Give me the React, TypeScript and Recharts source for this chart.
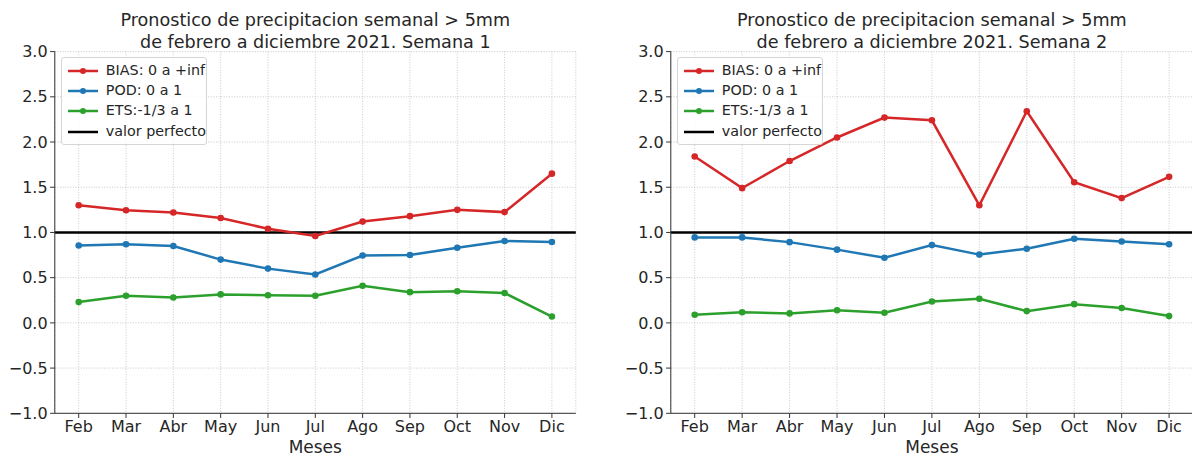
import { LineChart, Line, XAxis, YAxis, CartesianGrid, ReferenceLine } from 'recharts'

const meses = ['Feb', 'Mar', 'Abr', 'May', 'Jun', 'Jul', 'Ago', 'Sep', 'Oct', 'Nov', 'Dic']

const bias1 = [1.3, 1.245, 1.22, 1.16, 1.04, 0.96, 1.12, 1.18, 1.25, 1.225, 1.65]
const pod1 = [0.855, 0.87, 0.85, 0.7, 0.6, 0.535, 0.745, 0.75, 0.83, 0.905, 0.895]
const ets1 = [0.23, 0.3, 0.28, 0.315, 0.305, 0.3, 0.41, 0.34, 0.35, 0.33, 0.07]

const bias2 = [1.84, 1.49, 1.79, 2.05, 2.27, 2.24, 1.3, 2.34, 1.555, 1.38, 1.615]
const pod2 = [0.945, 0.945, 0.893, 0.81, 0.72, 0.86, 0.755, 0.82, 0.93, 0.9, 0.87]
const ets2 = [0.09, 0.118, 0.105, 0.14, 0.112, 0.236, 0.266, 0.13, 0.207, 0.165, 0.075]

const yTicks = [-1, -0.5, 0, 0.5, 1, 1.5, 2, 2.5, 3]
const valorPerfecto = 1

const titulo1 = 'Pronostico de precipitacion semanal > 5mm'
const titulo2a = 'de febrero a diciembre 2021. Semana 1'
const titulo2b = 'de febrero a diciembre 2021. Semana 2'

const RED = '#d62728'
const BLUE = '#1f77b4'
const GREEN = '#2ca02c'
const FONT = '"DejaVu Sans", sans-serif'
const INK = '#262626'
const SPINE = '#333'

const legendItems = [
  { label: 'BIAS: 0 a +inf', color: RED, dot: true },
  { label: 'POD: 0 a 1', color: BLUE, dot: true },
  { label: 'ETS:-1/3 a 1', color: GREEN, dot: true },
  { label: 'valor perfecto', color: '#000', dot: false },
]

const PLOT_TOP = 51.6
const PLOT_BOTTOM = 413.3
const H = 457
const CW = 600

function buildRows(bias: number[], pod: number[], ets: number[]) {
  return meses.map((mes, i) => ({ mes, bias: bias[i], pod: pod[i], ets: ets[i] }))
}

const fmtY = (v: number) => v.toFixed(1).replace('-', '\u2212')

function Legend({ x }: { x: number }) {
  return (
    <div
      style={{
        position: 'absolute', left: x + 5.8, top: 56.7, width: 146, height: 88,
        boxSizing: 'border-box', border: '1px solid #d6d6d6', borderRadius: 3,
        background: 'rgba(255,255,255,0.8)', fontFamily: FONT, fontSize: 14.3, color: INK,
      }}
    >
      {legendItems.map((it, i) => (
        <div key={it.label} style={{ position: 'absolute', left: 0, top: 3.3 + i * 20.2, height: 20, width: '100%' }}>
          <svg width={34} height={20} style={{ position: 'absolute', left: 5, top: 0 }}>
            <line x1={1} x2={31} y1={10} y2={10} stroke={it.color} strokeWidth={2.5} />
            {it.dot && <circle cx={16} cy={10} r={3} fill={it.color} />}
          </svg>
          <span style={{ position: 'absolute', left: 44.2, top: 1, lineHeight: '17px', whiteSpace: 'nowrap' }}>{it.label}</span>
        </div>
      ))}
    </div>
  )
}

function Panel({ left, plotLeft, plotRight, rows, sub }: {
  left: number; plotLeft: number; plotRight: number
  rows: ReturnType<typeof buildRows>; sub: string
}) {
  const yw = plotLeft - left
  const mr = left + CW - plotRight
  const pad = 23.9
  const cx = (plotLeft + plotRight) / 2
  const tick = { fill: INK, fontSize: 16, fontFamily: FONT }
  return (
    <>
      <div style={{ position: 'absolute', left: left, top: 0 }}>
        <LineChart width={CW} height={H} data={rows} margin={{ top: PLOT_TOP, right: mr, left: 0, bottom: 0 }}>
          <CartesianGrid stroke="#c4c4c4" strokeDasharray="1 1.6" strokeWidth={0.9} />
          <XAxis
            dataKey="mes" type="category" height={H - PLOT_BOTTOM - PLOT_TOP * 0}
            padding={{ left: pad, right: pad }}
            tick={tick} tickSize={4.7} tickMargin={3.1}
            tickLine={{ stroke: SPINE }} axisLine={{ stroke: SPINE, strokeWidth: 1 }}
            interval={0}
            label={{ value: 'Meses', position: 'insideBottom', offset: 4.5, fill: INK, fontSize: 17, fontFamily: FONT }}
          />
          <XAxis
            xAxisId="top" orientation="top" dataKey="mes" height={0}
            padding={{ left: pad, right: pad }} tick={false} tickLine={false}
            axisLine={{ stroke: SPINE, strokeWidth: 1 }}
          />
          <YAxis
            type="number" domain={[-1, 3]} ticks={yTicks} width={yw}
            tick={tick} tickFormatter={fmtY} tickSize={4.7} tickMargin={2.5}
            tickLine={{ stroke: SPINE }} axisLine={{ stroke: SPINE, strokeWidth: 1 }}
            interval={0}
          />
          <YAxis
            yAxisId="right" orientation="right" type="number" domain={[-1, 3]} width={0}
            tick={false} tickLine={false} axisLine={{ stroke: SPINE, strokeWidth: 1 }}
          />
          <ReferenceLine y={valorPerfecto} stroke="#000" strokeWidth={2.6} />
          <Line type="linear" dataKey="bias" stroke={RED} strokeWidth={2.5}
            dot={{ r: 3.3, fill: RED, stroke: RED, strokeWidth: 0 }} activeDot={false} isAnimationActive={false} />
          <Line type="linear" dataKey="pod" stroke={BLUE} strokeWidth={2.5}
            dot={{ r: 3.3, fill: BLUE, stroke: BLUE, strokeWidth: 0 }} activeDot={false} isAnimationActive={false} />
          <Line type="linear" dataKey="ets" stroke={GREEN} strokeWidth={2.5}
            dot={{ r: 3.3, fill: GREEN, stroke: GREEN, strokeWidth: 0 }} activeDot={false} isAnimationActive={false} />
        </LineChart>
      </div>
      <div
        style={{
          position: 'absolute', left: cx - 250, top: 10.3, width: 500, textAlign: 'center',
          fontFamily: FONT, fontSize: 17.6, lineHeight: '21.2px', color: INK, whiteSpace: 'pre',
        }}
      >
        {titulo1 + '\n' + sub}
      </div>
      <Legend x={plotLeft} />
    </>
  )
}

export default function App() {
  return (
    <div style={{ position: 'absolute', left: 0, top: 0, width: 1192, height: H, overflow: 'hidden', background: '#fff' }}>
      <Panel left={0} plotLeft={54.8} plotRight={575.8} rows={buildRows(bias1, pod1, ets1)} sub={titulo2a} />
      <Panel left={600} plotLeft={670.8} plotRight={1193} rows={buildRows(bias2, pod2, ets2)} sub={titulo2b} />
    </div>
  )
}
